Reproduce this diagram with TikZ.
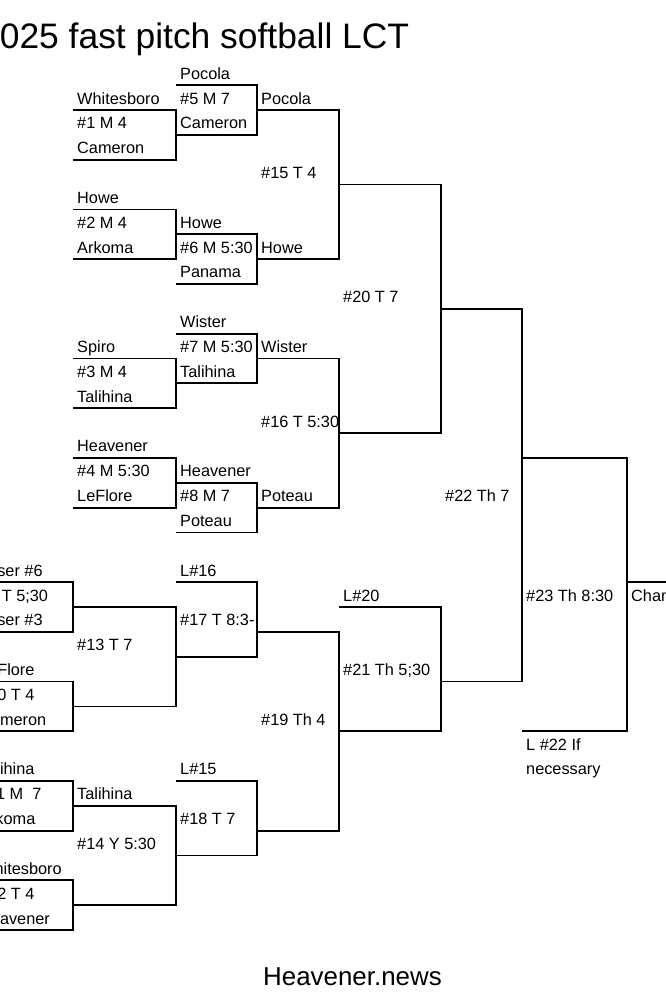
\documentclass[tikz,border=0pt]{standalone}
\usepackage{fontspec}
\setmainfont{Liberation Sans}
\newcommand\bkt[4]{\draw[br] (#1,#3) -- (#2,#3) -- (#2,#4) -- (#1,#4);}
\newcommand\lab[4]{\node[lbl] (#1) at (#2,#3-0.2414) {#4};}
\begin{document}
\begin{tikzpicture}[x=1pt,y=-24.85pt,
  br/.style={draw=black,line width=1.8pt},
  lbl/.style={anchor=base west,inner sep=0pt,font=\fontsize{16.3}{18}\selectfont}]
\useasboundingbox (0,-4.4266) rectangle (666,35.815);
\clip (0,-4.4266) rectangle (666,35.815);
% columns: c1=-21, c2=73, c3=176, c4=257, c5=339, c6=441, c7=522, c8=627
% ---------- winners bracket ----------
\bkt{73}{176}{0}{2}     % #1
\bkt{176}{257}{-1}{1}   % #5
\bkt{257}{339}{0}{6}    % #15
\bkt{73}{176}{4}{6}     % #2
\bkt{176}{257}{5}{7}    % #6
\bkt{339}{441}{3}{13}   % #20
\bkt{73}{176}{10}{12}   % #3
\bkt{176}{257}{9}{11}   % #7
\bkt{257}{339}{10}{16}  % #16
\bkt{73}{176}{14}{16}   % #4
\bkt{176}{257}{15}{17}  % #8
\bkt{441}{522}{8}{23}   % #22
\bkt{522}{627}{14}{25}  % #23
\draw[br] (627,19) -- (670,19);
% ---------- consolation ----------
\bkt{-21}{73}{19}{21}   % #9
\bkt{-21}{73}{23}{25}   % #10
\bkt{73}{176}{20}{24}   % #13
\bkt{176}{257}{19}{22}  % #17
\bkt{-21}{73}{27}{29}   % #11
\bkt{-21}{73}{31}{33}   % #12
\bkt{73}{176}{28}{32}   % #14
\bkt{176}{257}{27}{30}  % #18
\bkt{257}{339}{21}{29}  % #19
\bkt{339}{441}{20}{25}  % #21
% ---------- labels ----------
\lab{a1}{180}{-1}{Pocola}
\lab{a2}{77}{0}{Whitesboro}
\lab{a3}{77}{1}{\#1 M 4}
\lab{a4}{77}{2}{Cameron}
\lab{a5}{180}{0}{\#5 M 7}
\lab{a6}{180}{1}{Cameron}
\lab{a7}{261}{0}{Pocola}
\lab{a8}{261}{3}{\#15 T 4}
\lab{a9}{77}{4}{Howe}
\lab{a10}{77}{5}{\#2 M 4}
\lab{a11}{77}{6}{Arkoma}
\lab{a12}{180}{5}{Howe}
\lab{a13}{180}{6}{\#6 M 5:30}
\lab{a14}{180}{7}{Panama}
\lab{a15}{261}{6}{Howe}
\lab{a16}{343}{8}{\#20 T 7}
\lab{a17}{180}{9}{Wister}
\lab{a18}{180}{10}{\#7 M 5:30}
\lab{a19}{180}{11}{Talihina}
\lab{a20}{77}{10}{Spiro}
\lab{a21}{77}{11}{\#3 M 4}
\lab{a22}{77}{12}{Talihina}
\lab{a23}{261}{10}{Wister}
\lab{a24}{261}{13}{\#16 T 5:30}
\lab{a25}{77}{14}{Heavener}
\lab{a26}{77}{15}{\#4 M 5:30}
\lab{a27}{77}{16}{LeFlore}
\lab{a28}{180}{15}{Heavener}
\lab{a29}{180}{16}{\#8 M 7}
\lab{a30}{180}{17}{Poteau}
\lab{a31}{261}{16}{Poteau}
\lab{a32}{445}{16}{\#22 Th 7}
\lab{b1}{-21}{19}{Loser \#6}
\lab{b2}{-21}{20}{\#9 T 5;30}
\lab{b3}{-21}{21}{Loser \#3}
\lab{b4}{180}{19}{L\#16}
\lab{b5}{180}{21}{\#17 T 8:3-}
\lab{b6}{77}{22}{\#13 T 7}
\lab{b7}{-21}{23}{LeFlore}
\lab{b8}{-21}{24}{\#10 T 4}
\lab{b9}{-21}{25}{Cameron}
\lab{b10}{343}{20}{L\#20}
\lab{b11}{343}{23}{\#21 Th 5;30}
\lab{b12}{261}{25}{\#19 Th 4}
\lab{b13}{526}{20}{\#23 Th 8:30}
\lab{b14}{631}{20}{Champion}
\lab{b15}{526}{26}{L \#22 If}
\lab{b16}{526}{27}{necessary}
\lab{b17}{-21}{27}{Talihina}
\lab{b18}{-21}{28}{\#11 M\ \ 7}
\lab{b19}{-21}{29}{Arkoma}
\lab{b20}{77}{28}{Talihina}
\lab{b21}{77}{30}{\#14 Y 5:30}
\lab{b22}{180}{27}{L\#15}
\lab{b23}{180}{29}{\#18 T 7}
\lab{b24}{-21}{31}{Whitesboro}
\lab{b25}{-21}{32}{\#12 T 4}
\lab{b26}{-21}{33}{Heavener}
% ---------- title / footer ----------
\node[anchor=base west,inner sep=0pt,font=\fontsize{35.4}{40}\selectfont] (title) at (-20,-2.495) {2025 fast pitch softball LCT};
\node[anchor=base,inner sep=0pt,font=\fontsize{25.9}{30}\selectfont] (footer) at (352.5,35.25) {Heavener.news};
\end{tikzpicture}
\end{document}
